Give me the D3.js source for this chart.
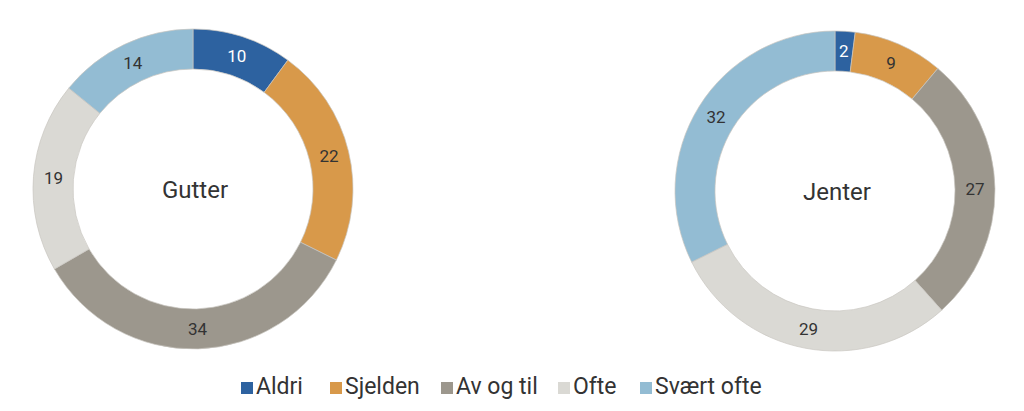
<!DOCTYPE html>
<html><head><meta charset="utf-8">
<script src="https://cdn.jsdelivr.net/npm/d3@7"></script>
<style>body{margin:0;background:#fff}svg{display:block}</style>
</head><body>
<svg id="c" width="1024" height="411"></svg>
<script>
const categories = ["Aldri","Sjelden","Av og til","Ofte","Svært ofte"];
const colors = ["#2D62A0","#D8994A","#9C978D","#DAD9D4","#93BCD3"];
const groups = ["Gutter","Jenter"];
const gutter = [10,22,34,19,14];
const jenter = [2,9,27,29,32];
const seriesValues = [gutter, jenter];

const svg = d3.select("#c");
const font = "Roboto, 'Liberation Sans', sans-serif";
const centers = [[193,189],[835,191]];
const rOuter = 160, rInner = 120;
const pie = d3.pie().sort(null).value(d=>d);
const arc = d3.arc().innerRadius(rInner).outerRadius(rOuter);
const labelArc = d3.arc().innerRadius(rInner+20).outerRadius(rInner+20);

groups.forEach((g,gi)=>{
  const gg = svg.append("g").attr("transform",`translate(${centers[gi][0]},${centers[gi][1]})`);
  const arcs = pie(seriesValues[gi]);
  gg.selectAll("path").data(arcs).join("path")
    .attr("d",arc).attr("fill",(d,i)=>colors[i])
    .attr("stroke","#c8c6c0").attr("stroke-width",0.7);
  gg.selectAll("text.v").data(arcs).join("text").attr("class","v")
    .attr("transform",d=>`translate(${labelArc.centroid(d)})`)
    .attr("text-anchor","middle").attr("dy","0.36em")
    .attr("font-family",font).attr("font-size",17)
    .attr("fill",(d,i)=>i===0?"#fff":"#333")
    .text(d=>d.data);
  gg.append("text").attr("x",2).attr("text-anchor","middle").attr("dy","0.36em")
    .attr("font-family",font).attr("font-size",24).attr("fill","#333")
    .text(g);
});

// legend
const leg = svg.append("g");
const xs = [241,330,441,558,640];
categories.forEach((c,i)=>{
  leg.append("rect").attr("x",xs[i]).attr("y",382).attr("width",12).attr("height",12).attr("fill",colors[i]);
  leg.append("text").attr("x",xs[i]+15).attr("y",394)
    .attr("font-family",font).attr("font-size",23).attr("fill","#333").text(c);
});
</script>
</body></html>
